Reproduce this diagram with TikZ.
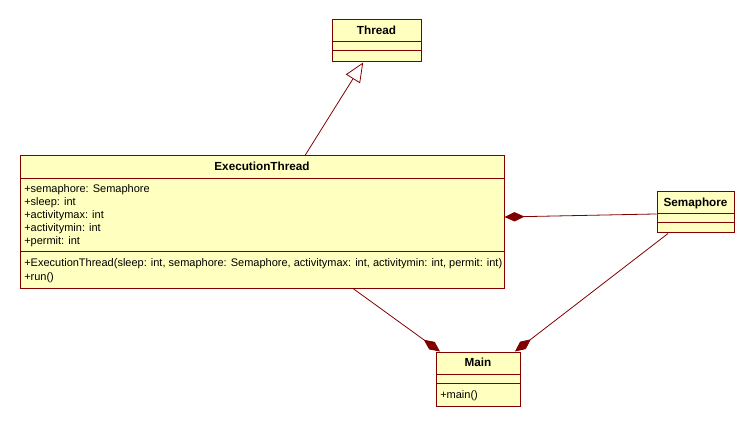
\documentclass[tikz,border=0pt]{standalone}
\usepackage{fontspec}
\setmainfont{Liberation Sans}
\usetikzlibrary{arrows.meta,fit}
\definecolor{umlborder}{HTML}{800000}
\definecolor{umlfill}{HTML}{FFFFC0}
\begin{document}
\begin{tikzpicture}[x=0.75pt,y=-0.75pt,
  classbox/.style={draw=umlborder, fill=umlfill, line width=0.75pt, inner sep=0pt},
  divider/.style={draw=umlborder, line width=0.75pt},
  title/.style={font=\fontsize{8.8pt}{10pt}\selectfont\bfseries, inner sep=0pt, anchor=base},
  member/.style={font=\fontsize{8.25pt}{9.75pt}\selectfont, inner sep=0pt, anchor=base west},
  link/.style={draw=umlborder, line width=0.6pt},
  composite/.style={link, -{Diamond[length=15pt,width=7pt,fill=umlborder]}},
  generalize/.style={link, -{Triangle[open,length=14.5pt,width=12.5pt,fill=white]}}]
\useasboundingbox (0,0) rectangle (755,427);

% Thread
\node[classbox, fit={(332,20) (421,62)}] (thread) {};
\draw[divider] (332,42) -- (421,42);
\draw[divider] (332,51) -- (421,51);
\node[title] (thread-name) at (376.5,35) {Thread};

% ExecutionThread
\node[classbox, fit={(20,156) (504,288)}] (exec) {};
\draw[divider] (20,179) -- (504,179);
\draw[divider] (20,252) -- (504,252);
\node[title] (exec-name) at (262,171) {ExecutionThread};
\node[member] (exec-a1) at (24,193) {+semaphore: Semaphore};
\node[member] (exec-a2) at (24,206) {+sleep: int};
\node[member] (exec-a3) at (24,219) {+activitymax: int};
\node[member] (exec-a4) at (24,232) {+activitymin: int};
\node[member] (exec-a5) at (24,245) {+permit: int};
\node[member] (exec-m1) at (24,267) {+ExecutionThread(sleep: int, semaphore: Semaphore, activitymax: int, activitymin: int, permit: int)};
\node[member] (exec-m2) at (24,280) {+run()};

% Semaphore
\node[classbox, fit={(657,192) (734,233)}] (sem) {};
\draw[divider] (657,214) -- (734,214);
\draw[divider] (657,223) -- (734,223);
\node[title] (sem-name) at (695.5,207) {Semaphore};

% Main
\node[classbox, fit={(436,352) (520,406)}] (main) {};
\draw[divider] (436,374) -- (520,374);
\draw[divider] (436,383) -- (520,383);
\node[title] (main-name) at (478,366) {Main};
\node[member] (main-m1) at (440,398) {+main()};

% Relations
\draw[generalize] ([xshift=32.25pt]exec.north) -- ([xshift=-10pt]thread.south);
\draw[composite] ([yshift=-1.1pt]sem.west) -- ([yshift=3.75pt]exec.east);
\draw[composite] ([xshift=68.25pt]exec.south) -- ([xshift=-28.5pt]main.north);
\draw[composite] ([xshift=-20.6pt]sem.south) -- ([xshift=27.75pt]main.north);
\end{tikzpicture}
\end{document}
